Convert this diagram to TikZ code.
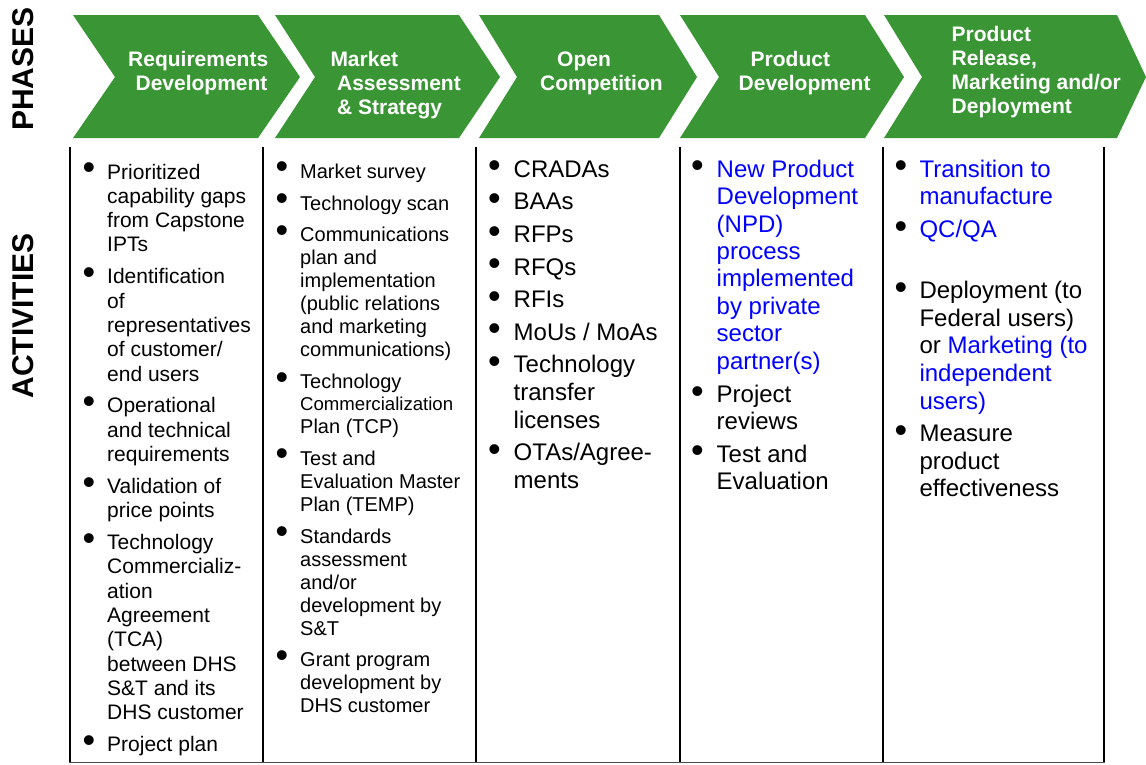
\documentclass[tikz,border=0pt]{standalone}
\usepackage{fontspec}
\setmainfont{Liberation Sans}
\definecolor{phasegreen}{RGB}{58,150,52}
\definecolor{npdblue}{RGB}{0,0,255}
\newcommand{\bul}{\raisebox{-0.6pt}{\fontsize{36}{36}\selectfont\textbullet}}

\begin{document}
\begin{tikzpicture}[x=1pt, y=-1pt,
        phase/.style={fill=phasegreen},
        phasetext/.style={anchor=base west, inner sep=0pt, text=white, font=\fontsize{21}{24}\selectfont\bfseries},
        sidelabel/.style={rotate=90, inner sep=0pt, font=\fontsize{30}{30}\selectfont\bfseries},
        actlist/.style={anchor=base west, inner sep=0pt},
        colline/.style={line width=2pt}]
        \useasboundingbox (0,0) rectangle (1146,764);

        % Etichette laterali
        \node[sidelabel] (phases) at (23.5,69) {PHASES};
        \node[sidelabel] (activities) at (23.5,316) {ACTIVITIES};

        % Fasi
        \fill[phase] (73,15) -- (258,15) -- (300,77) -- (258,138) -- (73,138) -- (115,77) -- cycle;
        \fill[phase] (275,15) -- (459,15) -- (500,77) -- (459,138) -- (275,138) -- (315,77) -- cycle;
        \fill[phase] (479,15) -- (659,15) -- (697,77) -- (659,138) -- (479,138) -- (517,77) -- cycle;
        \fill[phase] (680,15) -- (865,15) -- (904,77) -- (865,138) -- (680,138) -- (719,77) -- cycle;
        \fill[phase] (884,15) -- (1117,15) -- (1146,77) -- (1117,138) -- (884,138) -- (922,77) -- cycle;

        \node[phasetext] (reqdev) at (128,66) {\begin{tabular}[t]{@{}l@{}}Requirements\\\hspace*{7.4pt}Development\end{tabular}};
        \node[phasetext] (market) at (330.3,66) {\begin{tabular}[t]{@{}l@{}}Market\\\hspace*{6.6pt}Assessment\\\hspace*{6.6pt}\& Strategy\end{tabular}};
        \node[phasetext] (opencomp) at (540,66) {\begin{tabular}[t]{@{}l@{}}\hspace*{17pt}Open\\Competition\end{tabular}};
        \node[phasetext] (proddev) at (738.5,66) {\begin{tabular}[t]{@{}l@{}}\hspace*{12pt}Product\\Development\end{tabular}};
        \node[phasetext] (prodrel) at (951.5,41) {\begin{tabular}[t]{@{}l@{}}Product\\Release,\\Marketing and/or\\Deployment\end{tabular}};

        % Griglia delle attività
        \draw[colline] (70,147) -- (70,763);
        \draw[colline] (263,147) -- (263,763);
        \draw[colline] (476,147) -- (476,763);
        \draw[colline] (680,147) -- (680,763);
        \draw[colline] (883,147) -- (883,763);
        \draw[colline] (1104,147) -- (1104,763);
        \draw[line width=1.5pt, black!70] (69,762.5) -- (1105,762.5);

        % Attività
        \node[actlist, font=\fontsize{21}{24.3}\selectfont] (reqlist) at (82.5,179) {\begin{tabular}[t]{@{}p{24.5pt}@{}l@{}}
            \bul & Prioritized\\ & capability gaps\\ & from Capstone\\ & IPTs\\[7.6pt]
            \bul & Identification\\ & of\\ & representatives\\ & of customer/\\ & end users\\[7.6pt]
            \bul & Operational\\ & and technical\\ & requirements\\[7.6pt]
            \bul & Validation of\\ & price points\\[7.6pt]
            \bul & Technology\\ & Commercializ-\\ & ation\\ & Agreement\\ & (TCA)\\ & between DHS\\ & S\&T and its\\ & DHS customer\\[7.6pt]
            \bul & Project plan
        \end{tabular}};
        \node[actlist, font=\fontsize{20}{23}\selectfont] (marketlist) at (275.5,178.3) {\begin{tabular}[t]{@{}p{24.5pt}@{}l@{}}
            \bul & Market survey\\[8.7pt]
            \bul & Technology scan\\[8.7pt]
            \bul & Communications\\ & plan and\\ & implementation\\ & (public relations\\ & and marketing\\ & communications)\\[8.7pt]
            \bul & Technology\\[-1.3pt] & {\fontsize{18.6}{21}\selectfont Commercialization}\\ & Plan (TCP)\\[8.7pt]
            \bul & Test and\\ & Evaluation Master\\ & Plan (TEMP)\\[8.7pt]
            \bul & Standards\\ & assessment\\ & and/or\\ & development by\\ & S\&T\\[8.7pt]
            \bul & Grant program\\ & development by\\ & DHS customer
        \end{tabular}};
        \node[actlist, font=\fontsize{24}{27.6}\selectfont] (complist) at (488,177.3) {\begin{tabular}[t]{@{}p{25.5pt}@{}l@{}}
            \bul & CRADAs\\[5pt]
            \bul & BAAs\\[5pt]
            \bul & RFPs\\[5pt]
            \bul & RFQs\\[5pt]
            \bul & RFIs\\[5pt]
            \bul & MoUs / MoAs\\[5pt]
            \bul & Technology\\ & transfer\\ & licenses\\[5pt]
            \bul & OTAs/Agree-\\ & ments
        \end{tabular}};
        \node[actlist, font=\fontsize{24}{27.4}\selectfont] (devlist) at (691,177.3) {\begin{tabular}[t]{@{}p{25.5pt}@{}l@{}}
            \bul & \textcolor{npdblue}{New Product}\\ & \textcolor{npdblue}{Development}\\ & \textcolor{npdblue}{(NPD)}\\ & \textcolor{npdblue}{process}\\ & \textcolor{npdblue}{implemented}\\ & \textcolor{npdblue}{by private}\\ & \textcolor{npdblue}{sector}\\ & \textcolor{npdblue}{partner(s)}\\[6pt]
            \bul & Project\\ & reviews\\[5pt]
            \bul & Test and\\ & Evaluation
        \end{tabular}};
        \node[actlist, font=\fontsize{24}{27.6}\selectfont] (rellist) at (894.5,177.3) {\begin{tabular}[t]{@{}p{24.8pt}@{}l@{}}
            \bul & \textcolor{npdblue}{Transition to}\\ & \textcolor{npdblue}{manufacture}\\[5pt]
            \bul & \textcolor{npdblue}{QC/QA}\\[33.5pt]
            \bul & Deployment (to\\ & Federal users)\\ & or \textcolor{npdblue}{Marketing (to}\\ & \textcolor{npdblue}{independent}\\ & \textcolor{npdblue}{users)}\\[5pt]
            \bul & Measure\\ & product\\ & effectiveness
        \end{tabular}};

    \end{tikzpicture}
\end{document}
